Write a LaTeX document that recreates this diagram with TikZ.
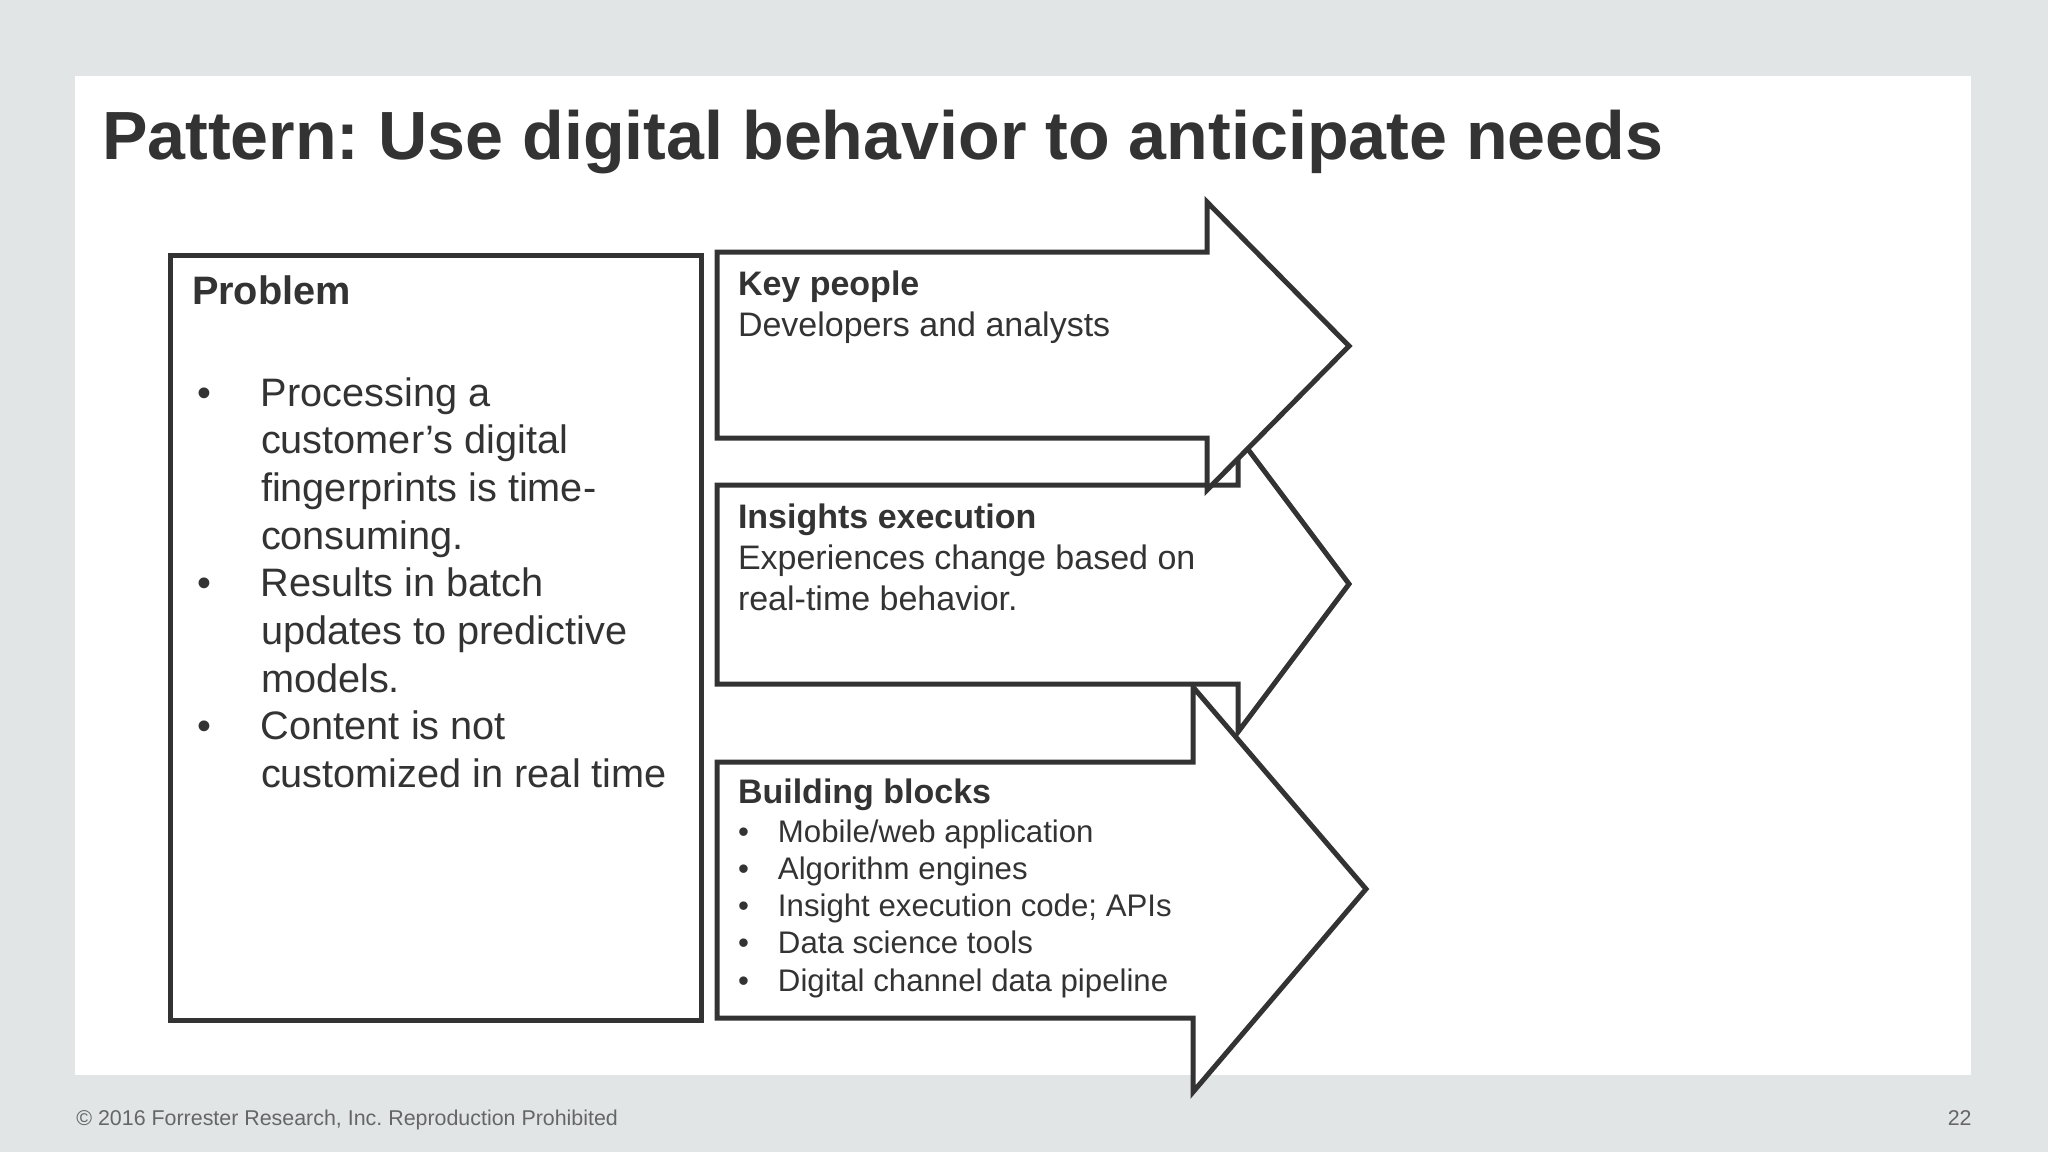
\documentclass[tikz,border=0pt]{standalone}
\usepackage{fontspec}
\setmainfont{Liberation Sans}
\definecolor{bg}{HTML}{E1E5E6}
\definecolor{ink}{HTML}{333333}
\definecolor{foot}{HTML}{666666}
\newcommand\bulA{\makebox[32pt][l]{•}}
\newcommand\indA{\hspace*{32pt}}
\newcommand\bulB{\makebox[20pt][l]{•}}
\frenchspacing
\begin{document}
\begin{tikzpicture}[x=0.5pt,y=-0.5pt,
  shapeline/.style={draw=ink, line width=2.5pt, fill=white, line join=miter},
  txt/.style={anchor=base west, inner sep=0pt, outer sep=0pt, text=ink},
  bodyA/.style={font=\fontsize{19.85}{23.85}\selectfont},
  headA/.style={font=\fontsize{19.85}{23.85}\selectfont\bfseries},
  bodyB/.style={font=\fontsize{17}{20.5}\selectfont},
  headB/.style={font=\fontsize{17}{20.5}\selectfont\bfseries},
  bodyC/.style={font=\fontsize{15.6}{18.65}\selectfont}]
\fill[bg] (0,0) rectangle (2048,1152);
\useasboundingbox (0,0) rectangle (2048,1152);
\fill[white] (75,76) rectangle (1971,1075);
\node[txt, font=\fontsize{34.1}{40}\selectfont\bfseries] (title) at (102,159) {Pattern: Use digital behavior to anticipate needs};
% problem box
\draw[shapeline] (170,255) rectangle (701,1020);
% arrows (drawn bottom first)
\draw[shapeline] (717,762) -- (1193,762) -- (1193,687) -- (1366,889) -- (1193,1092) -- (1193,1018) -- (717,1018) -- cycle;
\draw[shapeline] (717,485) -- (1238,485) -- (1238,436) -- (1349,584) -- (1238,732) -- (1238,684) -- (717,684) -- cycle;
\draw[shapeline] (717,252) -- (1207,252) -- (1207,202) -- (1349,346) -- (1207,490) -- (1207,438) -- (717,438) -- cycle;
% problem text
\node[txt, headA] (probhead) at (192,304) {Problem};
\node[txt, bodyA] (problist) at (197,406) {\parbox[t]{250pt}{\bulA Processing a\\
\indA customer’s digital\\
\indA fingerprints is time-\\
\indA consuming.\\
\bulA Results in batch\\
\indA updates to predictive\\
\indA models.\\
\bulA Content is not\\
\indA customized in real time}};
% arrow texts
\node[txt, bodyB] (keypeople) at (738,295) {\parbox[t]{300pt}{\textbf{Key people}\\Developers and analysts}};
\node[txt, bodyB] (insights) at (738,528) {\parbox[t]{300pt}{\textbf{Insights execution}\\Experiences change based on\\real-time behavior.}};
\node[txt, headB] (bbhead) at (738,803) {Building blocks};
\node[txt, bodyC] (bblist) at (738,842) {\parbox[t]{300pt}{\bulB Mobile/web application\\
\bulB Algorithm engines\\
\bulB Insight execution code; APIs\\
\bulB Data science tools\\
\bulB Digital channel data pipeline}};
% footer
\node[anchor=base west, inner sep=0pt, text=foot, font=\fontsize{10.7}{12}\selectfont] (copyright) at (76,1125) {© 2016 Forrester Research, Inc. Reproduction Prohibited};
\node[anchor=base east, inner sep=0pt, text=foot, font=\fontsize{10.7}{12}\selectfont] (pagenum) at (1972,1125) {22};
\end{tikzpicture}
\end{document}
